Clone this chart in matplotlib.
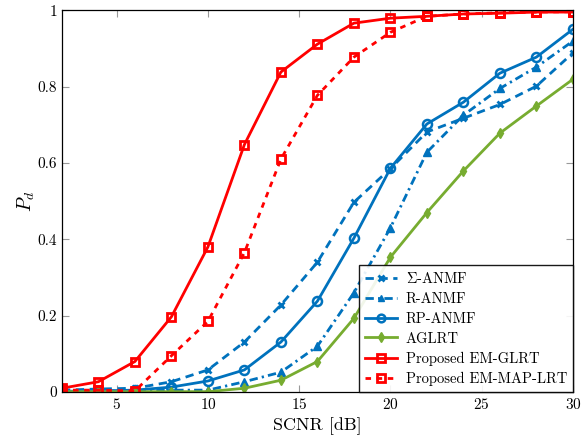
import matplotlib
matplotlib.use("Agg")
import matplotlib.pyplot as plt
import numpy as np

plt.rcParams["font.family"] = "serif"
plt.rcParams["font.serif"] = ["cmr10", "DejaVu Serif"]
plt.rcParams["mathtext.fontset"] = "cm"
plt.rcParams["axes.formatter.use_mathtext"] = True

scnr = [2, 4, 6, 8, 10, 12, 14, 16, 18, 20, 22, 24, 26, 28, 30]

sigma_anmf = [0.005, 0.008, 0.01, 0.027, 0.058, 0.131, 0.228, 0.34, 0.497, 0.585, 0.681, 0.717, 0.753, 0.801, 0.888]
r_anmf = [0.002, 0.003, 0.003, 0.005, 0.005, 0.027, 0.052, 0.12, 0.26, 0.43, 0.628, 0.725, 0.795, 0.851, 0.919]
rp_anmf = [0.002, 0.003, 0.005, 0.013, 0.029, 0.058, 0.131, 0.238, 0.403, 0.586, 0.702, 0.759, 0.835, 0.877, 0.95]
aglrt = [0.001, 0.001, 0.001, 0.001, 0.001, 0.01, 0.031, 0.08, 0.193, 0.353, 0.47, 0.579, 0.678, 0.749, 0.819]
em_glrt = [0.01, 0.027, 0.08, 0.197, 0.38, 0.648, 0.838, 0.911, 0.966, 0.979, 0.984, 0.99, 0.992, 0.995, 0.995]
em_map = [0.005, 0.005, 0.003, 0.095, 0.185, 0.365, 0.61, 0.777, 0.877, 0.942, 0.984, 0.99, 0.993, 0.995, 0.996]

blue = "#0072BD"
red = "#FF0000"
green = "#77AC30"

fig = plt.figure(figsize=(5.84, 4.42), dpi=100)
ax = fig.add_axes([0.106, 0.113, 0.875, 0.864])

ax.plot(scnr, sigma_anmf, color=blue, lw=2, ls=(0, (3, 2)), marker="x", ms=4.5, mew=2,
        label=r"$\Sigma$-ANMF")
ax.plot(scnr, r_anmf, color=blue, lw=2, ls=(0, (3, 1.5, 0.8, 1.5)), marker="^", ms=5.5,
        label="R-ANMF")
ax.plot(scnr, rp_anmf, color=blue, lw=2, ls="-", marker="o", ms=6.5, mfc="none", mew=1.8,
        label="RP-ANMF")
ax.plot(scnr, aglrt, color=green, lw=2, ls="-", marker="d", ms=5.5,
        label="AGLRT")
ax.plot(scnr, em_glrt, color=red, lw=2, ls="-", marker="s", ms=6.3, mfc="none", mew=2,
        label="Proposed EM-GLRT")
ax.plot(scnr, em_map, color=red, lw=2, ls=(0, (2, 2)), marker="s", ms=6.3, mfc="none", mew=2,
        label="Proposed EM-MAP-LRT")

ax.set_xlim(2, 30)
ax.set_ylim(0, 1)
ax.set_xticks([5, 10, 15, 20, 25, 30])
ax.set_yticks([0, 0.2, 0.4, 0.6, 0.8, 1])
ax.set_yticklabels(["0", "0.2", "0.4", "0.6", "0.8", "1"])
ax.tick_params(direction="in", top=True, right=True, labelsize=11, length=5, color="#999999")
for s in ax.spines.values():
    s.set_linewidth(0.9)

ax.set_xlabel("SCNR [dB]", fontsize=13)
ax.set_ylabel("$P_d$", fontsize=14, labelpad=0)

leg = ax.legend(loc="lower right", fontsize=10.5, fancybox=False, edgecolor="black",
                framealpha=0.9, borderaxespad=0, handlelength=2.2, labelspacing=0.42,
                handletextpad=0.6, markerscale=0.85)
leg.get_frame().set_linewidth(1)

fig.savefig("out.png", dpi=100)
